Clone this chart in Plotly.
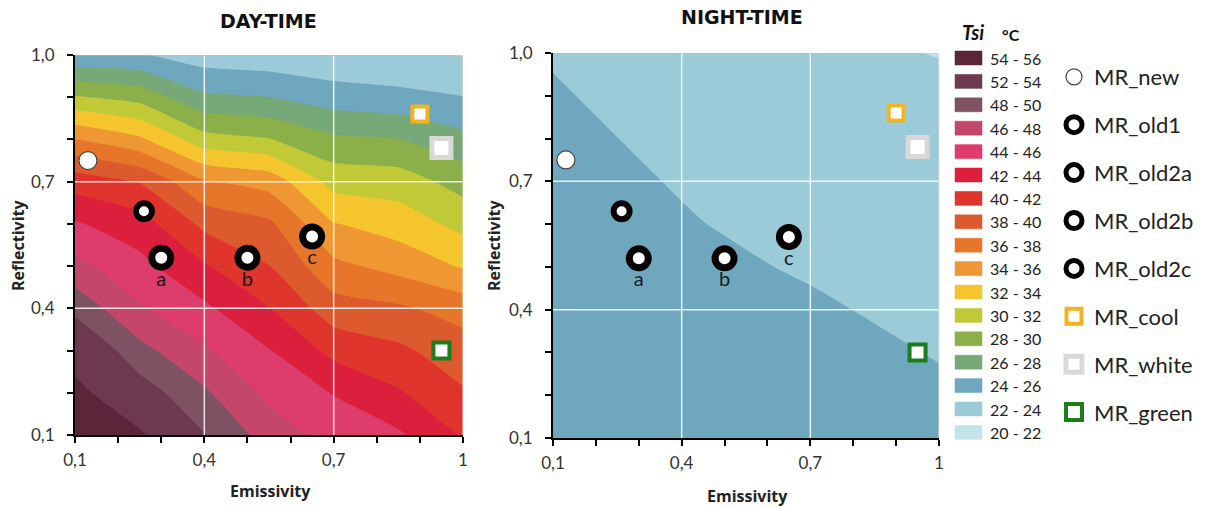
import plotly.graph_objects as go

# ---------------- data ----------------
EMISSIVITY = [0.1, 0.25, 0.4, 0.55, 0.7, 0.85, 1.0]
REFLECTIVITY = [0.1, 0.2, 0.3, 0.4, 0.5, 0.6, 0.7, 0.8, 0.9, 1.0]

# Day-time surface temperature (°C), rows = reflectivity, cols = emissivity
T_DAY = [
    [55.9, 54.5, 50.1, 47.1, 45.2, 44.3, 41.8],
    [55.0, 51.1, 48.3, 45.5, 43.9, 42.2, 40.2],
    [52.5, 48.6, 46.3, 44.1, 41.4, 40.4, 38.9],
    [49.4, 46.2, 44.4, 42.05, 38.9, 38.3, 37.2],
    [46.6, 44.6, 42.2, 40.05, 36.5, 35.3, 33.8],
    [44.2, 42.9, 39.5, 38.4, 34.1, 33.1, 31.4],
    [41.1, 39.9, 36.2, 35.2, 31.3, 31.0, 29.2],
    [36.05, 34.4, 30.8, 30.1, 28.4, 28.05, 26.6],
    [30.2, 29.3, 26.4, 26.05, 25.0, 24.6, 24.05],
    [24.3, 24.2, 23.0, 22.7, 22.4, 22.2, 21.95],
]

NIGHT_EMISSIVITY = [0.1, 0.4, 0.7, 1.0]
T_NIGHT = [
    [25.28, 24.83, 24.72, 24.36],
    [25.13, 24.68, 24.52, 24.15],
    [24.98, 24.53, 24.32, 23.95],
    [24.83, 24.38, 24.12, 23.75],
    [24.68, 24.23, 23.91, 23.54],
    [24.53, 24.08, 23.67, 23.34],
    [24.38, 23.93, 23.42, 23.14],
    [24.23, 23.78, 23.18, 22.93],
    [24.08, 23.63, 22.94, 22.73],
    [23.93, 23.48, 22.70, 21.90],
]

LEGEND_LABELS = ["54 - 56", "52 - 54", "48 - 50", "46 - 48", "44 - 46", "42 - 44",
                 "40 - 42", "38 - 40", "36 - 38", "34 - 36", "32 - 34", "30 - 32",
                 "28 - 30", "26 - 28", "24 - 26", "22 - 24", "20 - 22"]
LEGEND_COLORS = ["#5B2639", "#6D3950", "#7E5163", "#C4466A", "#DD3C6C", "#DC1F3C",
                 "#E0352D", "#DC5A2E", "#E8762A", "#EE9733", "#F4C52D", "#C2C936",
                 "#8BB04A", "#77A878", "#6FA8BE", "#9BCAD9", "#C3E2EA"]

MATERIALS = ["MR_new", "MR_old1", "MR_old2a", "MR_old2b", "MR_old2c",
             "MR_cool", "MR_white", "MR_green"]
MAT_EMISSIVITY = [0.13, 0.26, 0.30, 0.50, 0.65, 0.90, 0.95, 0.95]
MAT_REFLECTIVITY = [0.75, 0.63, 0.52, 0.52, 0.57, 0.86, 0.78, 0.30]
MAT_TAG = ["", "", "a", "b", "c", "", "", ""]

TICK_VALS = [0.1, 0.4, 0.7, 1.0]
Y_TICK_TEXT = ["0,1", "0,4", "0,7", "1,0"]
X_TICK_TEXT = ["0,1", "0,4", "0,7", "1"]
MINOR_VALS = [0.2, 0.3, 0.5, 0.6, 0.8, 0.9]
GRID_VALS = [0.4, 0.7]

# ---------------- styles ----------------
W, H = 1206, 508
STYLE = {
    "MR_new":   dict(symbol="circle", size=18, color="white", line=dict(color="#444444", width=1.2)),
    "MR_old1":  dict(symbol="circle", size=16, color="white", line=dict(color="black", width=6)),
    "MR_old2a": dict(symbol="circle", size=19, color="white", line=dict(color="black", width=7)),
    "MR_old2b": dict(symbol="circle", size=19, color="white", line=dict(color="black", width=7)),
    "MR_old2c": dict(symbol="circle", size=19, color="white", line=dict(color="black", width=7)),
    "MR_cool":  dict(symbol="square", size=15, color="white", line=dict(color="#F0B323", width=4)),
    "MR_white": dict(symbol="square", size=19, color="white", line=dict(color="#D9D9D9", width=5)),
    "MR_green": dict(symbol="square", size=16, color="white", line=dict(color="#1B7D1B", width=4)),
}

# contour colour scale built from the legend (bands 20-22 ... 54-56)
lows = list(range(20, 56, 2))
lab_color = {int(l.split(" - ")[0]): c for l, c in zip(LEGEND_LABELS, LEGEND_COLORS)}
band_colors = []
for lo in lows:
    k = lo
    while k not in lab_color:
        k += 2
    band_colors.append(lab_color[k])
n = len(band_colors) - 1
colorscale = [[i / n, c] for i, c in enumerate(band_colors)]

contours = dict(start=22, end=54, size=2, coloring="fill", showlines=False)

fig = go.Figure()
fig.add_trace(go.Contour(x=EMISSIVITY, y=REFLECTIVITY, z=T_DAY, contours=contours,
                         colorscale=colorscale, showscale=False, line=dict(width=0, smoothing=0.5),
                         hoverinfo="skip", xaxis="x", yaxis="y"))
fig.add_trace(go.Contour(x=NIGHT_EMISSIVITY, y=REFLECTIVITY, z=T_NIGHT, contours=contours,
                         colorscale=colorscale, showscale=False, line=dict(width=0, smoothing=0.5),
                         hoverinfo="skip", xaxis="x2", yaxis="y2"))

for ax, (xa, ya) in enumerate([("x", "y"), ("x2", "y2")]):
    for i, name in enumerate(MATERIALS):
        st = STYLE[name]
        tag = MAT_TAG[i]
        fig.add_trace(go.Scatter(
            x=[MAT_EMISSIVITY[i]], y=[MAT_REFLECTIVITY[i]],
            mode="markers+text" if tag else "markers",
            text=[tag] if tag else None, textposition="bottom center",
            textfont=dict(family="Lato", size=20, color="#1a1a1a"),
            marker=st, name=name, legendgroup=name, showlegend=(ax == 0),
            xaxis=xa, yaxis=ya, hoverinfo="skip", cliponaxis=False))

def px_x(p):
    return p / W

def px_y(p):
    return 1 - p / H

tickfont = dict(family="Lato", size=17, color="#333333")
common_axis = dict(range=[0.1, 1.0], tickmode="array", tickvals=TICK_VALS, automargin=False,
                   ticks="outside", ticklen=6, tickwidth=1.5, tickcolor="black",
                   showline=True, linecolor="black", linewidth=2, showgrid=False,
                   zeroline=False, tickfont=tickfont, layer="above traces",
                   minor=dict(tickmode="array", tickvals=MINOR_VALS, ticks="outside",
                              ticklen=6, tickwidth=1.5, tickcolor="black", showgrid=False))

fig.update_layout(
    width=W, height=H, margin=dict(l=0, r=0, t=0, b=0, autoexpand=False),
    paper_bgcolor="white", plot_bgcolor="white",
    xaxis=dict(domain=[px_x(75), px_x(463)], anchor="y", ticktext=X_TICK_TEXT,
               ticklabelstandoff=3, **common_axis),
    yaxis=dict(domain=[px_y(435), px_y(55)], anchor="x", ticktext=Y_TICK_TEXT,
               ticklabelstandoff=9, **common_axis),
    xaxis2=dict(domain=[px_x(553), px_x(939)], anchor="y2", ticktext=X_TICK_TEXT,
                ticklabelstandoff=3, **common_axis),
    yaxis2=dict(domain=[px_y(438), px_y(53)], anchor="x2", ticktext=Y_TICK_TEXT,
                ticklabelstandoff=9, **common_axis),
    legend=dict(x=px_x(1054), y=px_y(56), xanchor="left", yanchor="top",
                font=dict(family="Lato", size=22, color="#222222"),
                tracegroupgap=16.3, itemsizing="trace", bgcolor="rgba(0,0,0,0)"),
    showlegend=True,
)

shapes = []
for xa, ya in [("x", "y"), ("x2", "y2")]:
    for v in GRID_VALS:
        shapes.append(dict(type="line", xref=xa, yref=ya, x0=v, x1=v, y0=0.1, y1=1.0,
                           line=dict(color="rgba(255,255,255,0.85)", width=1.5), layer="above"))
        shapes.append(dict(type="line", xref=xa, yref=ya, x0=0.1, x1=1.0, y0=v, y1=v,
                           line=dict(color="rgba(255,255,255,0.85)", width=1.5), layer="above"))
    shapes.append(dict(type="line", xref=xa, yref=ya, x0=0.1, x1=1.0, y0=1.0, y1=1.0,
                       line=dict(color="#BBBBBB", width=1), layer="above"))
    shapes.append(dict(type="line", xref=xa, yref=ya, x0=1.0, x1=1.0, y0=0.1, y1=1.0,
                       line=dict(color="#DDDDDD", width=1), layer="above"))

annotations = []
# colour legend
for i, (lab, col) in enumerate(zip(LEGEND_LABELS, LEGEND_COLORS)):
    cy = 58 + i * 23.4
    shapes.append(dict(type="rect", xref="paper", yref="paper",
                       x0=px_x(955), x1=px_x(982), y0=px_y(cy + 7), y1=px_y(cy - 7),
                       fillcolor=col, line=dict(width=0.5, color=col)))
    annotations.append(dict(x=px_x(988), y=px_y(cy), xref="paper", yref="paper",
                            text=lab, showarrow=False, xanchor="left", yanchor="middle",
                            font=dict(family="Lato", size=16, color="#222222")))
annotations.append(dict(x=px_x(960), y=px_y(32), xref="paper", yref="paper",
                        text="<b><i>Tsi</i></b>", showarrow=False, xanchor="left", yanchor="middle",
                        font=dict(family="Lato", size=20, color="#111111")))
annotations.append(dict(x=px_x(1000), y=px_y(35), xref="paper", yref="paper",
                        text="<b>°C</b>", showarrow=False, xanchor="left", yanchor="middle",
                        font=dict(family="Lato", size=16, color="#111111")))
# titles
annotations.append(dict(x=px_x(268), y=px_y(21), xref="paper", yref="paper", text="<b>DAY-TIME</b>",
                        showarrow=False, xanchor="center", yanchor="middle",
                        font=dict(family="DejaVu Sans", size=19, color="#111111")))
annotations.append(dict(x=px_x(742), y=px_y(17), xref="paper", yref="paper", text="<b>NIGHT-TIME</b>",
                        showarrow=False, xanchor="center", yanchor="middle",
                        font=dict(family="DejaVu Sans", size=19, color="#111111")))
# axis titles
for cx, cy in [(270, 491), (748, 496)]:
    annotations.append(dict(x=px_x(cx), y=px_y(cy), xref="paper", yref="paper", text="<b>Emissivity</b>",
                            showarrow=False, xanchor="center", yanchor="middle",
                            font=dict(family="Open Sans", size=16, color="#222222")))
for cx, cy in [(18, 245), (494, 245)]:
    annotations.append(dict(x=px_x(cx), y=px_y(cy), xref="paper", yref="paper", text="<b>Reflectivity</b>",
                            showarrow=False, textangle=-90, xanchor="center", yanchor="middle",
                            font=dict(family="Open Sans", size=16, color="#222222")))

fig.update_layout(shapes=shapes, annotations=annotations)
fig.write_html("out.html")
